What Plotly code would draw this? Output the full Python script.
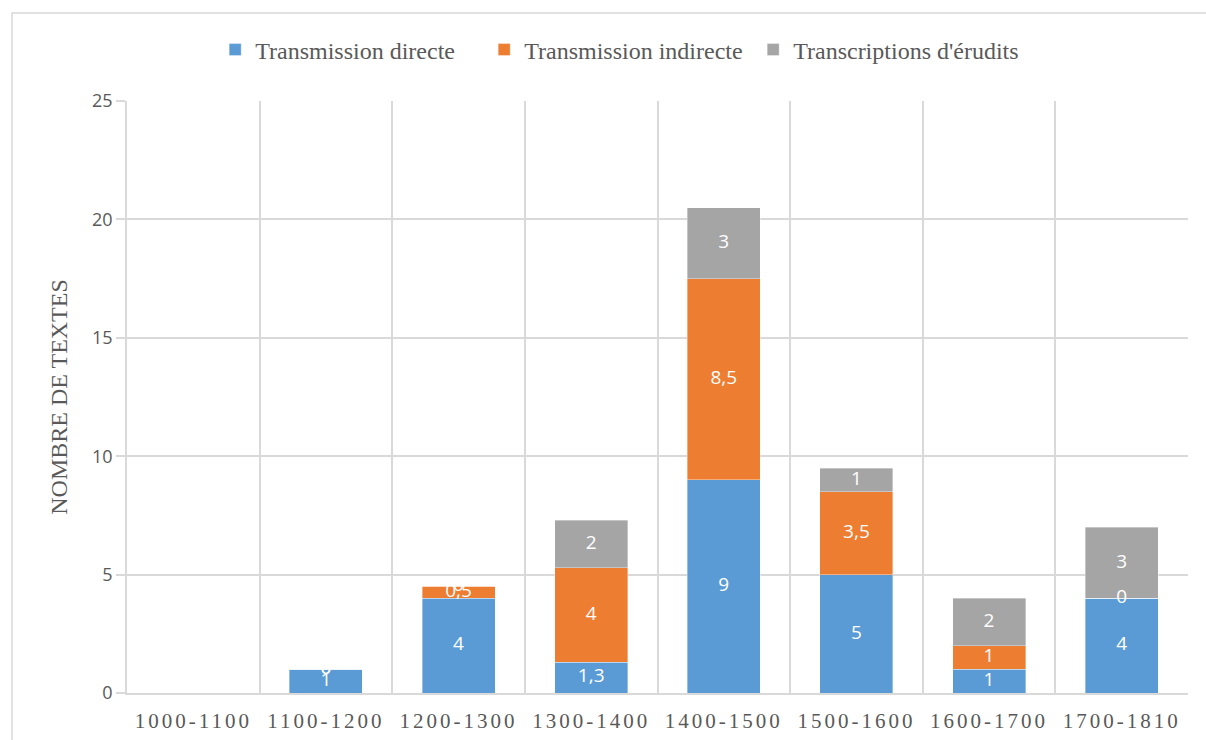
import plotly.graph_objects as go

categories = ["1000-1100", "1100-1200", "1200-1300", "1300-1400",
              "1400-1500", "1500-1600", "1600-1700", "1700-1810"]
directe = [0, 1, 4, 1.3, 9, 5, 1, 4]
indirecte = [0, 0, 0.5, 4, 8.5, 3.5, 1, 0]
erudits = [0, 0, 0, 2, 3, 1, 2, 3]
series_names = ["Transmission directe", "Transmission indirecte", "Transcriptions d'érudits"]
colors = ["#5B9BD5", "#ED7D31", "#A5A5A5"]
y_ticks = [0, 5, 10, 15, 20, 25]

def fmt(v):
    s = ("%g" % v)
    return s.replace(".", ",")

fig = go.Figure()
all_series = [directe, indirecte, erudits]
for name, vals, col in zip(series_names, all_series, colors):
    fig.add_trace(go.Bar(
        x=categories, y=vals, name=name,
        marker=dict(color=col, line=dict(color="rgba(255,255,255,0.6)", width=0.6)),
        hoverinfo="x+y+name",
    ))

# data labels centered in each segment (computed from data)
lab_x, lab_y, lab_t = [], [], []
base = [0] * len(categories)
for vals in all_series:
    for i, v in enumerate(vals):
        if i != 0:
            lab_x.append(categories[i])
            lab_y.append(base[i] + v / 2)
            lab_t.append(fmt(v))
        base[i] += v
fig.add_trace(go.Scatter(
    x=lab_x, y=lab_y, text=lab_t, mode="text",
    textfont=dict(family="Open Sans, sans-serif", size=19, color="white"),
    showlegend=False, hoverinfo="skip",
))

fig.update_layout(
    barmode="stack",
    bargap=0.45,
    width=1206, height=740,
    paper_bgcolor="white", plot_bgcolor="white",
    margin=dict(l=127, r=18, t=101, b=47, autoexpand=False),
    legend=dict(
        orientation="h", xref="container", x=0.513, xanchor="center",
        yref="container", y=1 - 50 / 740, yanchor="middle",
        font=dict(family="Liberation Serif, serif", size=24, color="#595959"),
        entrywidth=224, traceorder="normal",
    ),
    shapes=[dict(type="rect", xref="paper", yref="paper",
                 x0=-0.1084, x1=1.03, y0=-0.1, y1=1.1486,
                 line=dict(color="#D9D9D9", width=1.5), fillcolor="rgba(0,0,0,0)",
                 layer="below")],
)
fig.update_xaxes(
    type="category", automargin=False,
    tickson="boundaries", tickangle=0,
    showgrid=True, gridcolor="#D9D9D9", gridwidth=1.5,
    showline=True, linecolor="#D9D9D9", linewidth=1.5,
    ticks="", tickmode="array", tickvals=categories,
    ticktext=['<span style="letter-spacing:3px">%s</span>' % c for c in categories],
    tickfont=dict(family="Liberation Serif, serif", size=21, color="#595959"),
    ticklabelstandoff=8,
)
fig.update_yaxes(
    range=[0, 25], tickvals=y_ticks, automargin=False,
    showgrid=True, gridcolor="#D9D9D9", gridwidth=1.5,
    showline=True, linecolor="#D9D9D9", linewidth=1.5,
    ticks="outside", ticklen=9, tickcolor="#D9D9D9", tickwidth=1.5,
    tickfont=dict(family="Open Sans, sans-serif", size=18, color="#595959"),
    zeroline=False,
    title=dict(text="NOMBRE DE TEXTES", standoff=18,
               font=dict(family="Liberation Serif, serif", size=24, color="#595959")),
)

fig.write_html("out.html", config={"displayModeBar": False},
               post_script="document.body.style.margin='0';")
